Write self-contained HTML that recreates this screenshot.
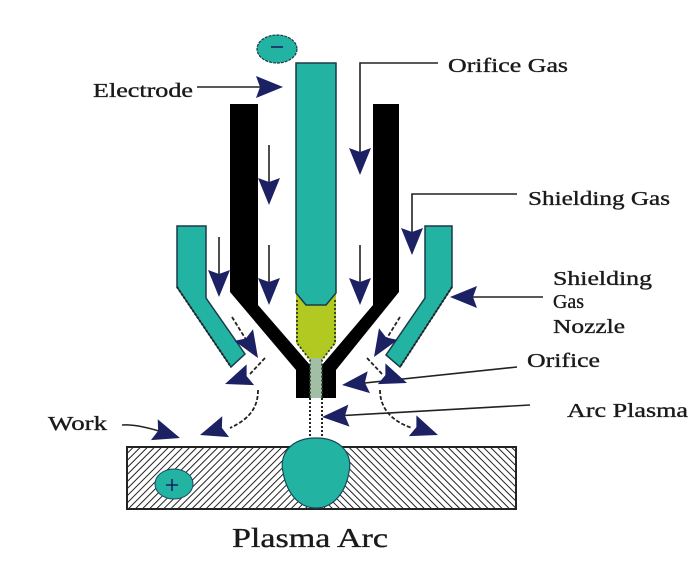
<!DOCTYPE html>
<html><head><meta charset="utf-8"><style>
html,body{margin:0;padding:0;background:#fff;}
svg{display:block;}
text{font-family:"Liberation Serif",serif;fill:#1a1a1a;stroke:#1a1a1a;stroke-width:0.35;}
</style></head><body>
<svg width="700" height="568" viewBox="0 0 700 568" xmlns="http://www.w3.org/2000/svg">
<defs>
<pattern id="hL" width="5" height="5" patternUnits="userSpaceOnUse" patternTransform="rotate(45)">
<rect width="5" height="5" fill="#fff"/><line x1="0" y1="0" x2="0" y2="5" stroke="#222" stroke-width="2"/>
</pattern>
<pattern id="hR" width="5" height="5" patternUnits="userSpaceOnUse" patternTransform="rotate(-45)">
<rect width="5" height="5" fill="#fff"/><line x1="0" y1="0" x2="0" y2="5" stroke="#222" stroke-width="2"/>
</pattern>
<path id="ah" d="M0,0 L-27,-11 L-23,0 L-27,11 Z" fill="#1b2163"/>
</defs>
<rect width="700" height="568" fill="#fff"/>

<!-- plate -->
<rect x="127" y="447" width="195" height="62" fill="url(#hL)"/>
<rect x="316" y="447" width="200" height="62" fill="url(#hR)"/>
<rect x="127" y="447" width="389" height="62" fill="none" stroke="#222" stroke-width="2"/>
<!-- plus circle -->
<ellipse cx="174" cy="484" rx="19" ry="15" fill="#22b3a3" stroke="#1b4a5a" stroke-width="1"/>
<path d="M166,485 H178 M172,479 V491" stroke="#1b2163" stroke-width="1.6"/>
<!-- pool -->
<path d="M316,438 C342,438 353,455 349,472 C346,490 335,508 316,508 C297,508 286,490 283,472 C279,455 290,438 316,438 Z" fill="#22b3a3" stroke="#1b4a5a" stroke-width="1.2"/>

<!-- dotted channel below orifice -->
<path d="M310,398 V438 M322,398 V438" stroke="#222" stroke-width="2" stroke-dasharray="2,2"/>

<!-- nozzles -->
<path d="M177,226 H206 V298 L245,354 L231,367 L177,287 Z" fill="#22b3a3" stroke="#1b3a4a" stroke-width="1.5"/>
<path d="M425,226 H452 V287 L400,367 L386,355 L425,298 Z" fill="#22b3a3" stroke="#1b3a4a" stroke-width="1.5"/>
<path d="M177,287 L231,367" stroke="#222" stroke-width="2" stroke-dasharray="2,2"/>
<path d="M452,287 L400,367" stroke="#222" stroke-width="2" stroke-dasharray="2,2"/>

<!-- black bars -->
<path d="M230,104 H258 V305 L310,365 V398 H296 V370 L230,292 Z" fill="#000"/>
<path d="M373,104 H399 V292 L336,370 V398 H322 V365 L373,305 Z" fill="#000"/>

<!-- yellow region and channel -->
<path d="M296,293 L306,305 H326 L336,293 V343 L322,360 H310 L296,343 Z" fill="#b2c922"/>
<rect x="310" y="358" width="12" height="40" fill="#a2bfa6"/>
<path d="M297,300 V343 L310,360 V398 M335,300 V343 L322,360 V398" fill="none" stroke="#2a3a2a" stroke-width="1.8" stroke-dasharray="2,2"/>

<!-- electrode -->
<path d="M296,63 H336 V293 L326,305 H306 L296,293 Z" fill="#22b3a3" stroke="#1b3a4a" stroke-width="1.5"/>

<!-- minus -->
<ellipse cx="277" cy="49" rx="20" ry="14" fill="#22b3a3" stroke="#1b3a4a" stroke-width="1.2" stroke-dasharray="3,1"/>
<path d="M271,47 H283" stroke="#1b2163" stroke-width="1.6"/>

<!-- leader lines -->
<g stroke="#222" stroke-width="1.6" fill="none">
<path d="M197,87 H265"/>
<path d="M438,63 H360 V160"/>
<path d="M517,194 H412 V240"/>
<path d="M269,145 V190"/>
<path d="M269,245 V290"/>
<path d="M360,245 V290"/>
<path d="M219,237 V282"/>
<path d="M543,297 H470"/>
<path d="M517,367 L355,384"/>
<path d="M530,405 L335,416"/>
<path d="M122,425 C135,424 150,428 165,433"/>
</g>
<g stroke="#222" stroke-width="1.8" fill="none" stroke-dasharray="4,2">
<path d="M232,317 L250,346"/>
<path d="M400,317 L382,346"/>
<path d="M265,358 L250,374"/>
<path d="M367,358 L382,374"/>
<path d="M258,390 C258,405 252,418 230,428"/>
<path d="M380,390 C380,405 388,420 412,428"/>
</g>

<!-- arrowheads -->
<use href="#ah" transform="translate(283,87)"/>
<use href="#ah" transform="translate(360,175) rotate(90)"/>
<use href="#ah" transform="translate(412,255) rotate(90)"/>
<use href="#ah" transform="translate(269,205) rotate(90)"/>
<use href="#ah" transform="translate(269,305) rotate(90)"/>
<use href="#ah" transform="translate(360,305) rotate(90)"/>
<use href="#ah" transform="translate(219,297) rotate(90)"/>
<use href="#ah" transform="translate(450,297) rotate(180)"/>
<use href="#ah" transform="translate(342,385) rotate(174)"/>
<use href="#ah" transform="translate(322,417) rotate(177)"/>
<use href="#ah" transform="translate(258,358) rotate(58)"/>
<use href="#ah" transform="translate(374,357) rotate(122)"/>
<use href="#ah" transform="translate(225,384) rotate(160)"/>
<use href="#ah" transform="translate(407,383) rotate(20)"/>
<use href="#ah" transform="translate(200,435) rotate(162)"/>
<use href="#ah" transform="translate(438,435) rotate(20)"/>
<use href="#ah" transform="translate(180,438) rotate(18)"/>

<!-- labels -->
<text x="93" y="97" font-size="20" textLength="100" lengthAdjust="spacingAndGlyphs">Electrode</text>
<text x="448" y="72" font-size="20" textLength="120" lengthAdjust="spacingAndGlyphs">Orifice Gas</text>
<text x="528" y="205" font-size="20" textLength="142" lengthAdjust="spacingAndGlyphs">Shielding Gas</text>
<text x="553" y="285" font-size="20" textLength="99" lengthAdjust="spacingAndGlyphs">Shielding</text>
<text x="553" y="308" font-size="20" textLength="31" lengthAdjust="spacingAndGlyphs">Gas</text>
<text x="553" y="333" font-size="20" textLength="72" lengthAdjust="spacingAndGlyphs">Nozzle</text>
<text x="527" y="367" font-size="20" textLength="73" lengthAdjust="spacingAndGlyphs">Orifice</text>
<text x="567" y="417" font-size="20" textLength="121" lengthAdjust="spacingAndGlyphs">Arc Plasma</text>
<text x="48" y="430" font-size="20" textLength="59" lengthAdjust="spacingAndGlyphs">Work</text>
<text x="232" y="547" font-size="27" textLength="156" lengthAdjust="spacingAndGlyphs">Plasma Arc</text>
</svg>
</body></html>
